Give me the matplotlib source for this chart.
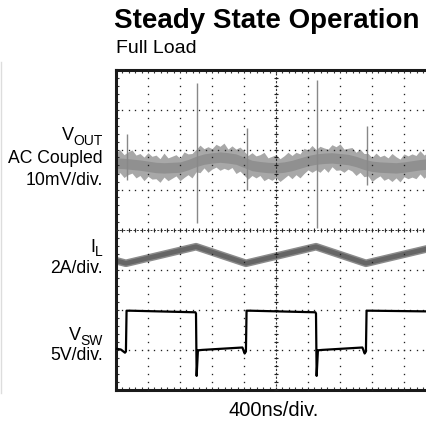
import numpy as np
import matplotlib.pyplot as plt
from matplotlib.lines import Line2D

plt.rcParams['font.family'] = ['Liberation Sans', 'DejaVu Sans']

# time axis in scope divisions (400ns/div), vertical in divisions
# V_OUT trace (AC coupled): centre line every 0.25 div
vout_t = np.arange(0, 10, 0.25)
vout_mid = [5.66, 5.65, 5.63, 5.61, 5.58, 5.55, 5.54, 5.55, 5.56, 5.62,
            5.70, 5.76, 5.79, 5.81, 5.79, 5.76, 5.68, 5.60, 5.57, 5.55,
            5.54, 5.56, 5.60, 5.66, 5.72, 5.76, 5.78, 5.79, 5.77, 5.75,
            5.70, 5.63, 5.58, 5.56, 5.55, 5.54, 5.56, 5.59, 5.62, 5.64]
# noise envelope every 0.125 div
env_t = np.arange(0, 10, 0.125)
vout_hi = [5.93, 5.99, 5.87, 5.94, 5.99, 5.86, 5.90, 5.81, 5.92, 5.83,
           5.86, 5.77, 5.91, 5.79, 5.83, 5.87, 5.78, 5.94, 5.89, 5.90,
           6.00, 6.11, 6.02, 6.07, 6.02, 6.13, 6.08, 6.16, 6.01, 6.09,
           6.01, 6.06, 5.96, 5.85, 5.92, 5.84, 5.87, 5.93, 5.79, 5.83,
           5.87, 5.77, 5.84, 5.93, 5.85, 5.93, 5.89, 6.03, 5.99, 6.10,
           6.00, 6.08, 6.04, 6.01, 6.12, 6.07, 6.14, 6.01, 6.03, 6.05,
           5.93, 6.01, 5.90, 5.90, 5.80, 5.91, 5.82, 5.86, 5.79, 5.90,
           5.82, 5.76, 5.89, 5.84, 5.89, 5.85, 5.97, 5.86, 5.93, 5.97]
vout_lo = [5.36, 5.42, 5.30, 5.37, 5.41, 5.29, 5.35, 5.22, 5.33, 5.26,
           5.27, 5.18, 5.31, 5.22, 5.28, 5.34, 5.22, 5.30, 5.37, 5.29,
           5.44, 5.42, 5.54, 5.43, 5.51, 5.56, 5.48, 5.53, 5.49, 5.55,
           5.40, 5.46, 5.36, 5.26, 5.35, 5.29, 5.35, 5.22, 5.28, 5.23,
           5.30, 5.20, 5.28, 5.36, 5.27, 5.37, 5.29, 5.40, 5.49, 5.43,
           5.49, 5.43, 5.53, 5.43, 5.57, 5.48, 5.49, 5.43, 5.51, 5.46,
           5.35, 5.43, 5.32, 5.34, 5.20, 5.28, 5.34, 5.23, 5.28, 5.20,
           5.29, 5.19, 5.32, 5.27, 5.31, 5.27, 5.39, 5.28, 5.38, 5.34]

# switching spikes on V_OUT: time, top, bottom
spike_t = [0.34, 2.53, 4.09, 6.28, 7.84]
spike_top = [6.39, 7.66, 6.54, 7.74, 6.59]
spike_bot = [5.24, 4.16, 4.99, 4.04, 5.11]

# inductor current (triangle)
il_t = [0, 0.31, 2.5, 4.06, 6.25, 7.81, 10]
il_v = [3.22, 3.155, 3.57, 3.155, 3.57, 3.155, 3.57]

# switch node voltage
vsw_t = [0, 0.15, 0.28, 0.31, 0.33, 0.45, 2.48, 2.5, 2.52, 2.56, 2.7,
         3.95, 4.02, 4.06, 4.08, 4.2, 6.23, 6.25, 6.27, 6.31, 6.45,
         7.7, 7.77, 7.81, 7.83, 7.95, 10]
vsw_v = [1.02, 1.0, 0.92, 0.95, 1.97, 1.97, 1.93, 1.9, 0.34, 0.98, 0.99,
         1.05, 0.9, 0.95, 1.97, 1.97, 1.93, 1.9, 0.34, 0.98, 0.99,
         1.05, 0.9, 0.95, 1.97, 1.97, 1.95]

W, H = 427, 425
fig = plt.figure(figsize=(W / 100, H / 100), dpi=100)


def fx(px):
    return px / W


def fy(py):
    return 1 - py / H


ax = fig.add_axes([fx(116), fy(389.5), 320 / W, 320 / H])
ax.set_xlim(0, 10)
ax.set_ylim(0, 8)
ax.set_xticks([])
ax.set_yticks([])
ax.set_xticks(np.arange(0, 10.01, 0.2), minor=True)
ax.set_yticks(np.arange(0, 8.01, 0.2), minor=True)
ax.tick_params(which='minor', direction='in', length=2.0, width=0.8,
               top=True, right=True, labelbottom=False, labelleft=False,
               color='#333333')
for s in ax.spines.values():
    s.set_linewidth(2.2)
    s.set_color('#1a1a1a')

# traces
ax.fill_between(env_t, vout_lo, vout_hi, color='#a8a8a8', lw=0, zorder=1)
ax.fill_between(vout_t, np.array(vout_mid) - 0.13, np.array(vout_mid) + 0.13,
                color='#909090', lw=0, zorder=1)
ax.vlines(spike_t, spike_bot, spike_top, color='#888888', lw=1.0, zorder=1)
ax.plot(il_t, il_v, color='#8c8c8c', lw=5.5, solid_joinstyle='round', zorder=2)
ax.plot(il_t, il_v, color='#666666', lw=3.4, solid_joinstyle='round', zorder=2)

# graticule dots
xm = np.arange(0, 10.01, 0.2)
ym = np.arange(0, 8.01, 0.2)
for k in range(1, 8):
    ax.plot(xm, np.full_like(xm, k), ls='none', marker='s', ms=0.95,
            mew=0, color='#222222', zorder=3)
for k in range(1, 10):
    ax.plot(np.full_like(ym, k), ym, ls='none', marker='s', ms=0.95,
            mew=0, color='#222222', zorder=3)
# center cross with ticks
ax.plot([5, 5], [0, 8], color='#333333', lw=0.8, ls=(0, (2, 1.5)), zorder=3)
ax.plot(np.full_like(ym, 5), ym, ls='none', marker='_', ms=3.5, mew=0.8,
        color='#222222', zorder=3)
ax.plot([0, 10], [4, 4], color='#333333', lw=0.7, ls=(0, (2, 1.5)), zorder=3)
ax.plot(xm, np.full_like(xm, 4), ls='none', marker='|', ms=3.2, mew=0.8,
        color='#222222', zorder=3)

ax.plot(vsw_t, vsw_v, color='black', lw=1.6, zorder=4)

# faint panel edge at far left
fig.add_artist(Line2D([fx(1), fx(1)], [fy(393), fy(62)], color='#dddddd', lw=1))

# text
fig.text(fx(114), fy(28.5), 'Steady State Operation', fontsize=20,
         fontweight='bold', ha='left', va='baseline')
fig.text(fx(115.5), fy(52.7), 'Full Load', fontsize=14, ha='left', va='baseline')
fig.text(fx(274), fy(415.7), '400ns/div.', fontsize=14.5, ha='center',
         va='baseline')

renderer = fig.canvas.get_renderer()


def sub_label(main, sub, py, drop=5):
    t = fig.text(fx(103), fy(py + drop), sub, fontsize=10, ha='right',
                 va='baseline')
    bb = t.get_window_extent(renderer)
    fig.text(bb.x0 / W + 0.5 / W, fy(py), main, fontsize=13, ha='right',
             va='baseline')


lab = 12.7
sub_label('V', 'OUT', 140)
fig.text(fx(103), fy(163), 'AC Coupled', fontsize=lab, ha='right', va='baseline')
fig.text(fx(103), fy(185), '10mV/div.', fontsize=lab, ha='right', va='baseline')
sub_label('I', 'L', 252, drop=4)
fig.text(fx(103), fy(273), '2A/div.', fontsize=lab, ha='right', va='baseline')
sub_label('V', 'SW', 340)
fig.text(fx(103), fy(360), '5V/div.', fontsize=lab, ha='right', va='baseline')

fig.savefig('out.png', dpi=100)
